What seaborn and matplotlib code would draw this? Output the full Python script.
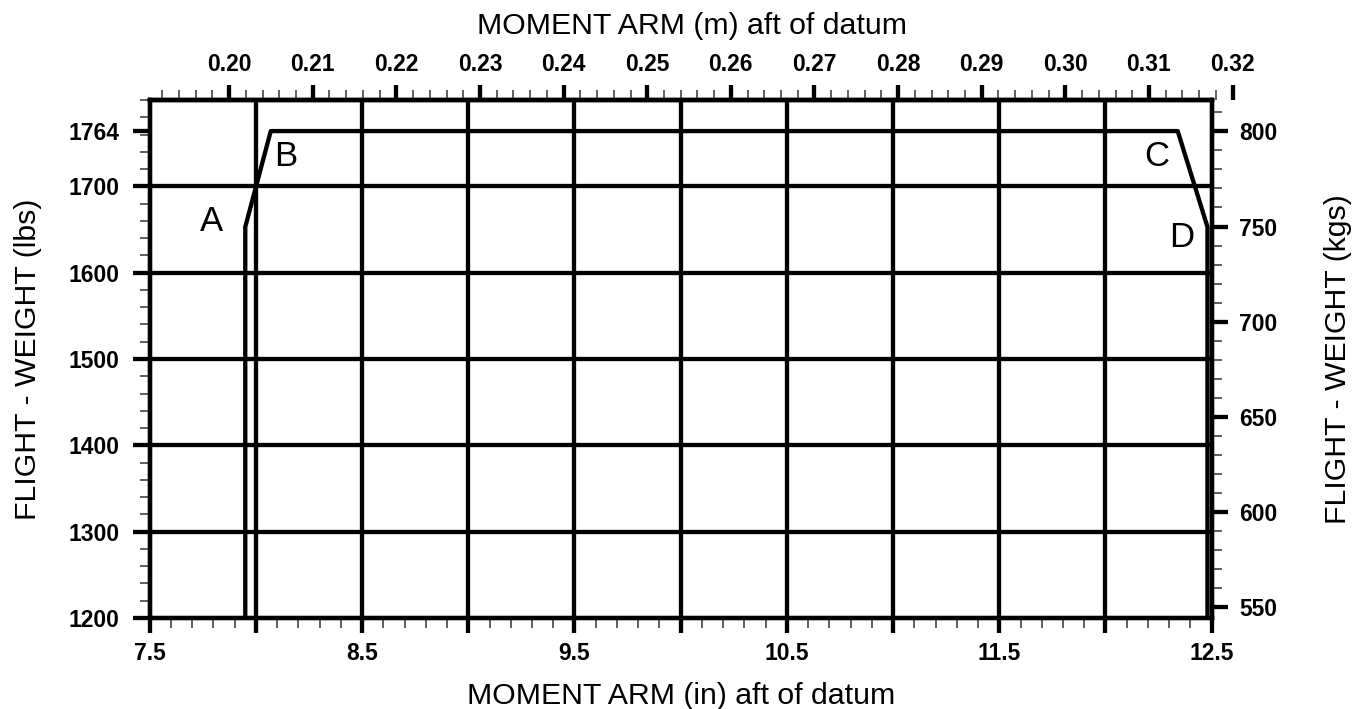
import matplotlib
matplotlib.use("Agg")
import matplotlib.pyplot as plt
import numpy as np
import pandas as pd
import seaborn as sns
from matplotlib.ticker import FixedLocator, MultipleLocator

# Weight-and-balance envelope corners (moment arm in inches, weight in lbs)
envelope_arm_in = [7.95, 7.95, 8.07, 12.34, 12.48, 12.48]
envelope_weight_lbs = [1200, 1653, 1764, 1764, 1653, 1200]

# Corner letters and where they sit
corner_names = ["A", "B", "C", "D"]
corner_arm_in = [7.79, 8.14, 12.24, 12.36]
corner_weight_lbs = [1659, 1735, 1735, 1641]

# Heavy reference grid
grid_arm_in = [8.0, 8.5, 9.0, 9.5, 10.0, 10.5, 11.0, 11.5, 12.0]
grid_weight_lbs = [1300, 1400, 1500, 1600, 1700]

# Axis ticks and labels
arm_ticks_in = [7.5, 8.0, 8.5, 9.0, 9.5, 10.0, 10.5, 11.0, 11.5, 12.0, 12.5]
arm_labels_in = ["7.5", "", "8.5", "", "9.5", "", "10.5", "", "11.5", "", "12.5"]
weight_ticks_lbs = [1200, 1300, 1400, 1500, 1600, 1700, 1764]
weight_labels_lbs = ["1200", "1300", "1400", "1500", "1600", "1700", "1764"]
weight_ticks_kg = [550, 600, 650, 700, 750, 800]
weight_labels_kg = ["550", "600", "650", "700", "750", "800"]
arm_ticks_m = [0.20, 0.21, 0.22, 0.23, 0.24, 0.25, 0.26, 0.27, 0.28, 0.29, 0.30, 0.31, 0.32]
arm_labels_m = ["0.20", "0.21", "0.22", "0.23", "0.24", "0.25", "0.26",
                "0.27", "0.28", "0.29", "0.30", "0.31", "0.32"]

LBS_PER_KG = 2.20462
M_PER_IN = 0.0254

sns.set_theme(style="ticks")
plt.rcParams["font.family"] = ["Liberation Sans", "DejaVu Sans"]
plt.rcParams["text.color"] = "black"
plt.rcParams["axes.labelcolor"] = "black"

X_MIN, X_MAX = 7.5, 12.5
Y_MIN, Y_MAX = 1200, 1800

fig = plt.figure(figsize=(13.65, 7.09), dpi=100)
left, bottom, width, height = 0.10967, 0.12835, 0.77802, 0.73061
ax = fig.add_axes([left, bottom, width, height])

LW = 3.1
TICK_FS = 16.5
LABEL_FS = 21.8

# Grid lines
for gx in grid_arm_in:
    ax.axvline(gx, color="black", lw=LW, zorder=1)
for gy in grid_weight_lbs:
    ax.axhline(gy, color="black", lw=LW, zorder=1)

# Envelope
env = pd.DataFrame({"arm": envelope_arm_in, "weight": envelope_weight_lbs})
sns.lineplot(data=env, x="arm", y="weight", sort=False, estimator=None,
             color="black", lw=LW, ax=ax, zorder=2)

for name, cx, cy in zip(corner_names, corner_arm_in, corner_weight_lbs):
    ax.text(cx, cy, name, ha="center", va="center", fontsize=25, color="black")

ax.set_xlim(X_MIN, X_MAX)
ax.set_ylim(Y_MIN, Y_MAX)

for s in ax.spines.values():
    s.set_linewidth(LW)
    s.set_color("black")

# Bottom axis (inches)
ax.xaxis.set_major_locator(FixedLocator(arm_ticks_in))
ax.set_xticklabels(arm_labels_in, fontweight="bold")
ax.xaxis.set_minor_locator(MultipleLocator(0.1))
ax.tick_params(axis="x", which="major", length=11, width=LW, pad=6.5,
               labelsize=TICK_FS, color="black", labelcolor="black")
ax.tick_params(axis="x", which="minor", length=7, width=1.1, color="#333333")

# Left axis (pounds)
ax.yaxis.set_major_locator(FixedLocator(weight_ticks_lbs))
ax.set_yticklabels(weight_labels_lbs, fontweight="bold")
ax.yaxis.set_minor_locator(MultipleLocator(20))
ax.tick_params(axis="y", which="major", length=12, width=LW, pad=9.5,
               labelsize=TICK_FS, color="black", labelcolor="black")
ax.tick_params(axis="y", which="minor", length=7, width=1.1, color="#333333")
ax.yaxis.get_major_ticks()[-1].tick1line.set_visible(False)

ax.set_xlabel("MOMENT ARM (in) aft of datum", fontsize=LABEL_FS, labelpad=12)
ax.set_ylabel("FLIGHT - WEIGHT (lbs)", fontsize=LABEL_FS, labelpad=19)

# Right axis (kilograms)
axr = ax.twinx()
axr.set_ylim(Y_MIN / LBS_PER_KG, Y_MAX / LBS_PER_KG)
axr.yaxis.set_major_locator(FixedLocator(weight_ticks_kg))
axr.set_yticklabels(weight_labels_kg, fontweight="bold")
axr.yaxis.set_minor_locator(MultipleLocator(10))
axr.tick_params(axis="y", which="major", length=11.5, width=LW, pad=8.5,
                labelsize=TICK_FS, color="black", labelcolor="black")
axr.tick_params(axis="y", which="minor", length=7, width=1.1, color="#333333")
for s in axr.spines.values():
    s.set_linewidth(LW)
    s.set_color("black")
axr.set_ylabel("FLIGHT - WEIGHT (kgs)", fontsize=LABEL_FS, labelpad=33)

# Top axis (metres); its scale runs a little past the frame to reach 0.32
m_lo = X_MIN * M_PER_IN
m_hi = 0.3202
width_top = width * (m_hi / M_PER_IN - X_MIN) / (X_MAX - X_MIN)
axt = fig.add_axes([left, bottom, width_top, height])
axt.patch.set_visible(False)
axt.set_xlim(m_lo, m_hi)
axt.yaxis.set_visible(False)
for side in ("left", "right", "bottom"):
    axt.spines[side].set_visible(False)
axt.spines["top"].set_linewidth(LW)
axt.spines["top"].set_color("black")
axt.spines["top"].set_bounds(m_lo, X_MAX * M_PER_IN)
axt.xaxis.tick_top()
axt.xaxis.set_label_position("top")
axt.xaxis.set_major_locator(FixedLocator(arm_ticks_m))
axt.set_xticklabels(arm_labels_m, fontweight="bold")
axt.xaxis.set_minor_locator(MultipleLocator(0.002))
axt.tick_params(axis="x", which="major", length=11, width=LW, pad=6,
                labelsize=TICK_FS, color="black", labelcolor="black")
axt.tick_params(axis="x", which="minor", length=7, width=1.1, color="#333333")
axt.set_xlabel("MOMENT ARM (m) aft of datum", fontsize=LABEL_FS, labelpad=14)

fig.savefig("out.png", dpi=100, facecolor="white")
